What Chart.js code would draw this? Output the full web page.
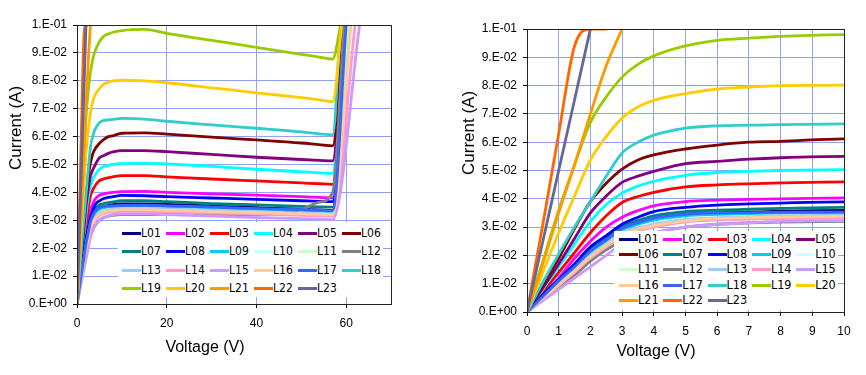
<!DOCTYPE html>
<html>
<head>
<meta charset="utf-8">
<script src="https://cdn.jsdelivr.net/npm/chart.js@4/dist/chart.umd.min.js"></script>
<style>
  body { margin: 0; background: #fff; }
  #wrap { position: relative; width: 866px; height: 375px; overflow: hidden; font-family: 'Liberation Sans', Arial, sans-serif; }
  canvas { position: absolute; top: 0; }
  .ttl { position: absolute; font-size: 16px; color: #000; white-space: nowrap; }
  .ttl.rot { transform: translate(-50%, -50%) rotate(-90deg); font-size: 17px; }
  .ttl.hor { transform: translate(-50%, -50%); }
  .legend { position: absolute; background: #fff; }
  .item { position: absolute; height: 14px; font-family: 'Liberation Sans Narrow', 'DejaVu Sans Condensed', sans-serif; color: #000; white-space: nowrap; }
  .item i { position: absolute; left: 0; top: 6px; width: 19px; height: 3px; }
  .item span { position: absolute; left: 19px; top: 0; line-height: 14px; }
</style>
</head>
<body>
<div id="wrap">
  <canvas id="leftChart" width="430" height="375" style="left:0"></canvas>
  <canvas id="rightChart" width="426" height="375" style="left:440px"></canvas>
  <div class="ttl rot" style="left:16px; top:128px">Current (A)</div>
  <div class="ttl hor" style="left:205px; top:347px">Voltage (V)</div>
  <div class="ttl rot" style="left:469px; top:133px">Current (A)</div>
  <div class="ttl hor" style="left:656px; top:351px">Voltage (V)</div>
  <div class="legend" id="leftLegend" style="left:118px; top:222px; width:265px; height:75px"></div>
  <div class="legend" id="rightLegend" style="left:614px; top:231px; width:224px; height:79px"></div>
</div>
<script>
/* ── data ───────────────────────────────── */
const LABELS = ['L01','L02','L03','L04','L05','L06','L07','L08','L09','L10','L11','L12',
                'L13','L14','L15','L16','L17','L18','L19','L20','L21','L22','L23'];
const COLORS = ['#000080','#FF00FF','#FF0000','#00FFFF','#800080','#800000','#008080','#0000FF',
                '#00CCFF','#CCFFFF','#CCFFCC','#808080','#99CCFF','#FF99CC','#CC99FF','#FFCC99',
                '#3366FF','#33CCCC','#99CC00','#FFCC00','#FF9900','#FF6600','#666699'];

// voltage sample points (V)
const VOLTS = [0, 0.5, 1, 1.5, 2, 2.5, 3, 3.5, 4, 5, 6, 7, 8, 10, 15, 20, 30, 40, 50, 54, 57];

// current (A) at each VOLTS point
const L01 = [0, .005, .011, .016, .021, .025, .029, .0313, .033, .0345, .035, .0353, .0356, .0359, .0359, .0357, .0351, .0345, .034, .0337, .0335];
const L02 = [0, .006, .012, .019, .025, .030, .0335, .0358, .0375, .039, .0395, .0398, .040, .0403, .0404, .040, .0395, .039, .0385, .0382, .038];
const L03 = [0, .007, .014, .021, .028, .034, .0387, .0408, .0423, .0442, .0449, .0453, .0456, .046, .046, .0456, .0448, .0441, .0434, .0431, .0429];
const L04 = [0, .008, .016, .024, .032, .038, .042, .0445, .0462, .0483, .0493, .0497, .05, .0503, .0505, .0502, .0493, .0483, .0474, .047, .0468];
const L05 = [0, .0085, .017, .026, .035, .041, .0458, .048, .0497, .0524, .0532, .054, .0545, .055, .055, .0546, .0536, .0526, .0518, .0515, .0513];
const L06 = [0, .0095, .019, .0295, .039, .0455, .0505, .0537, .0555, .0576, .059, .06, .0603, .0612, .0613, .0609, .0598, .0588, .0577, .0571, .0567];
const L07 = [0, .0055, .011, .0165, .022, .026, .030, .0323, .034, .0355, .036, .0363, .0366, .037, .037, .0367, .036, .0355, .035, .0348, .0347];
const L08 = [0, .006, .0115, .017, .023, .027, .031, .0335, .0355, .037, .0378, .0382, .0385, .0389, .0388, .0385, .038, .0375, .037, .0368, .0367];
const L09 = [0, .005, .0105, .0155, .021, .025, .029, .031, .0325, .034, .0345, .0348, .035, .0352, .0352, .035, .0345, .034, .0336, .0334, .0332];
const L10 = [0, .005, .01, .015, .02, .024, .028, .0297, .031, .0325, .033, .0333, .0335, .0337, .0337, .0335, .033, .0326, .0322, .032, .0319];
const L11 = [0, .005, .0095, .0145, .019, .023, .027, .029, .0305, .032, .0327, .033, .0332, .0335, .0335, .0333, .0328, .0324, .032, .0318, .0316];
const L12 = [0, .0045, .009, .013, .018, .022, .025, .0267, .028, .030, .031, .0315, .0318, .032, .032, .032, .032, .032, .0338, .0365, .040];
const L13 = [0, .005, .01, .015, .02, .024, .028, .0297, .031, .0327, .0333, .0337, .034, .0342, .0342, .034, .0336, .033, .0326, .0324, .0322];
const L14 = [0, .0045, .0095, .014, .019, .023, .027, .0287, .030, .0318, .0325, .0328, .033, .0332, .0332, .033, .0326, .0322, .0318, .0316, .0315];
const L15 = [0, .004, .008, .012, .016, .020, .024, .0262, .028, .030, .031, .0315, .032, .0323, .0323, .032, .0315, .031, .0306, .0304, .0302];
const L16 = [0, .005, .0095, .0145, .0195, .0235, .0275, .0292, .0305, .0322, .033, .0333, .0335, .0338, .0338, .0336, .0331, .0327, .0323, .0321, .032];
const L17 = [0, .0055, .011, .016, .0215, .0255, .0295, .0316, .0332, .0345, .035, .0351, .0352, .0353, .0354, .0352, .0347, .0342, .0338, .0336, .0335];
const L18 = [0, .0105, .0205, .030, .039, .048, .0562, .060, .0625, .065, .0658, .066, .0662, .0665, .0663, .0655, .0642, .063, .0617, .061, .0606];
const L19 = [0, .018, .036, .052, .067, .076, .083, .0875, .0905, .094, .096, .0968, .0974, .098, .0984, .097, .0945, .092, .0895, .0885, .0878];
const L20 = [0, .014, .028, .041, .0537, .062, .0685, .0725, .0748, .0772, .0788, .0795, .08, .0802, .080, .0793, .0775, .0757, .074, .0732, .0725];
const L21 = [0, .017, .035, .052, .07, .087, .1];
const L22 = [0, .031, .063, .094, .1, .1];
const L23 = [0, .025, .05, .075, .1];
const CURRENTS = [L01,L02,L03,L04,L05,L06,L07,L08,L09,L10,L11,L12,L13,L14,L15,L16,L17,L18,L19,L20,L21,L22,L23];

// voltage where each curve hits the 0.1 A ceiling after breakdown
const BREAK_V = [59.8, 60.5, 59.2, 59.2, 59.5, 59.5, 59.8, 60, 60, 60.5, 60.5, 59.5,
                 61, 62, 63, 61, 60, 58.7, 58.8, 59, null, null, null];
const BREAK_I = 0.1;

const Y_TICK_LABELS = ['0.E+00','1.E-02','2.E-02','3.E-02','4.E-02','5.E-02',
                       '6.E-02','7.E-02','8.E-02','9.E-02','1.E-01'];

/* ── helpers ────────────────────────────── */
function makeDatasets() {
  return LABELS.map((name, i) => {
    const pts = CURRENTS[i].map((c, j) => ({ x: VOLTS[j], y: c }));
    if (BREAK_V[i] !== null) pts.push({ x: BREAK_V[i], y: BREAK_I });
    return {
      label: name,
      data: pts,
      borderColor: COLORS[i],
      borderWidth: 2.8,
      pointRadius: 0,
      fill: false,
      cubicInterpolationMode: 'monotone',
      order: LABELS.length - i,
    };
  });
}

const frame = {
  id: 'frame',
  afterDraw(chart) {
    const { ctx, chartArea: a } = chart;
    ctx.save();
    ctx.strokeStyle = '#222';
    ctx.lineWidth = 1;
    ctx.strokeRect(Math.round(a.left) + 0.5, Math.round(a.top) + 0.5,
                   Math.round(a.right - a.left), Math.round(a.bottom - a.top));
    ctx.restore();
  }
};

const gridColor = '#8FA3F2';
const tickFont = { family: "'Liberation Sans', Arial, sans-serif", size: 12 };

function buildChart(id, xMax, xStep, pad, yWidth, xHeight) {
  return new Chart(document.getElementById(id), {
    type: 'line',
    data: { datasets: makeDatasets() },
    plugins: [frame],
    options: {
      responsive: false,
      animation: false,
      layout: { padding: pad },
      plugins: { legend: { display: false }, tooltip: { enabled: false } },
      scales: {
        x: {
          type: 'linear', min: 0, max: xMax,
          ticks: { stepSize: xStep, includeBounds: false, color: '#000', font: tickFont, padding: 8, maxRotation: 0 },
          grid: { color: gridColor, tickColor: '#000', tickLength: 4 },
          border: { color: '#000' },
          afterFit: s => { s.height = xHeight; },
        },
        y: {
          min: 0, max: 0.1,
          ticks: { stepSize: 0.01, color: '#000', font: tickFont, padding: 6,
                   callback: (v, i) => Y_TICK_LABELS[i] },
          grid: { color: gridColor, tickColor: '#000', tickLength: 4 },
          border: { color: '#000' },
          afterFit: s => { s.width = yWidth; },
        }
      }
    }
  });
}

function buildLegend(el, cols, colPitch, rowPitch, x0, y0, fontSize) {
  LABELS.forEach((name, i) => {
    const d = document.createElement('div');
    d.className = 'item';
    d.style.left = (x0 + (i % cols) * colPitch) + 'px';
    d.style.top = (y0 + Math.floor(i / cols) * rowPitch) + 'px';
    d.style.fontSize = fontSize + 'px';
    d.innerHTML = `<i style="background:${COLORS[i]}"></i><span>${name}</span>`;
    el.appendChild(d);
  });
}

/* ── render ─────────────────────────────── */
buildChart('leftChart', 70, 20, { left: 0, top: 25, right: 39, bottom: 0 }, 77, 71);
buildChart('rightChart', 10, 1, { left: 0, top: 29, right: 22, bottom: 0 }, 87, 63);

buildLegend(document.getElementById('leftLegend'), 6, 44, 18.4, 4, 4, 12);
buildLegend(document.getElementById('rightLegend'), 5, 44.3, 15.2, 5, 1, 12.5);
</script>
</body>
</html>
